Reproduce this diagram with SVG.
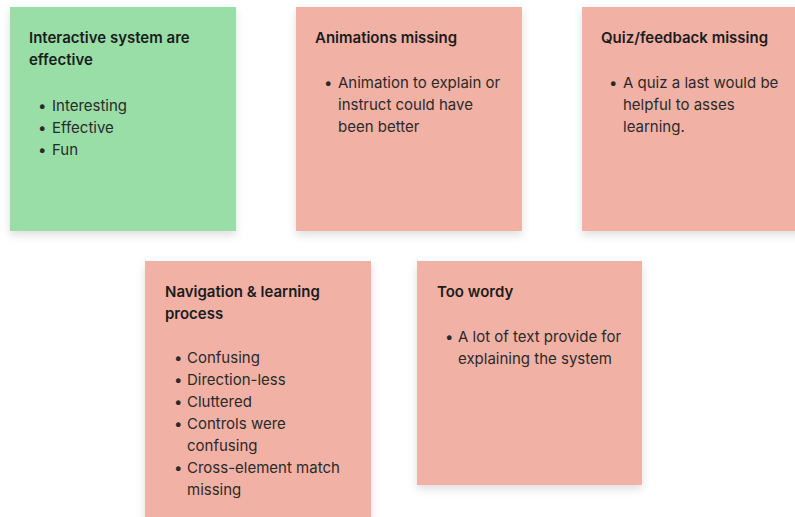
<svg xmlns="http://www.w3.org/2000/svg" width="795" height="517" viewBox="0 0 795 517">
<defs>
<filter id="sh" x="-10%" y="-10%" width="120%" height="125%">
<feDropShadow dx="0" dy="4" stdDeviation="4" flood-color="#000" flood-opacity="0.13"/>
</filter>
<style>
.green{fill:#98DEA6;filter:url(#sh)}
.red{fill:#F2B1A5;filter:url(#sh)}
.t{font-family:Inter,"Liberation Sans",sans-serif;font-size:15px;font-weight:600;fill:#1c1c1c}
.b{font-family:Inter,"Liberation Sans",sans-serif;font-size:15px;font-weight:400;fill:#2a2a2a}
</style>
</defs>
<rect width="795" height="517" fill="#ffffff"/>
<g id="note-interactive">
<rect class="green" x="10" y="7" width="226" height="224"/>
<text class="t" x="29" y="43">Interactive system are</text>
<text class="t" x="29" y="65">effective</text>
<text class="b" x="38" y="111">•</text><text class="b" x="52" y="111">Interesting</text>
<text class="b" x="38" y="133">•</text><text class="b" x="52" y="133">Effective</text>
<text class="b" x="38" y="155">•</text><text class="b" x="52" y="155">Fun</text>
</g>
<g id="note-animations">
<rect class="red" x="296" y="7" width="226" height="224"/>
<text class="t" x="315" y="43">Animations missing</text>
<text class="b" x="324" y="88">•</text><text class="b" x="338" y="88">Animation to explain or</text>
<text class="b" x="338" y="110">instruct could have</text>
<text class="b" x="338" y="132">been better</text>
</g>
<g id="note-quiz">
<rect class="red" x="582" y="7" width="226" height="224"/>
<text class="t" x="601" y="43">Quiz/feedback missing</text>
<text class="b" x="609" y="88">•</text><text class="b" x="623" y="88">A quiz a last would be</text>
<text class="b" x="623" y="110">helpful to asses</text>
<text class="b" x="623" y="132">learning.</text>
</g>
<g id="note-navigation">
<rect class="red" x="145" y="261" width="226" height="270"/>
<text class="t" x="165" y="297">Navigation &amp; learning</text>
<text class="t" x="165" y="319">process</text>
<text class="b" x="174" y="363">•</text><text class="b" x="187" y="363">Confusing</text>
<text class="b" x="174" y="385">•</text><text class="b" x="187" y="385">Direction-less</text>
<text class="b" x="174" y="407">•</text><text class="b" x="187" y="407">Cluttered</text>
<text class="b" x="174" y="429">•</text><text class="b" x="187" y="429">Controls were</text>
<text class="b" x="187" y="451">confusing</text>
<text class="b" x="174" y="473">•</text><text class="b" x="187" y="473">Cross-element match</text>
<text class="b" x="187" y="495">missing</text>
</g>
<g id="note-wordy">
<rect class="red" x="417" y="261" width="225" height="224"/>
<text class="t" x="437" y="297">Too wordy</text>
<text class="b" x="445" y="342">•</text><text class="b" x="458" y="342">A lot of text provide for</text>
<text class="b" x="458" y="364">explaining the system</text>
</g>
<g id="connectors"></g>
</svg>
